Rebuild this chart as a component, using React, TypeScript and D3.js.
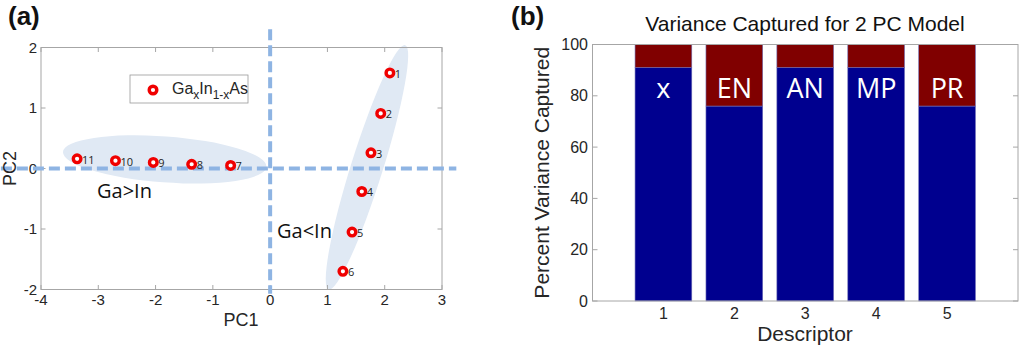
import React from 'react';
import * as d3 from 'd3';

// panel (a): PCA scores of GaxIn1-xAs
const pointIds = [1, 2, 3, 4, 5, 6, 7, 8, 9, 10, 11];
const pc1Scores = [2.09, 1.93, 1.76, 1.6, 1.43, 1.27, -0.69, -1.37, -2.04, -2.7, -3.37];
const pc2Scores = [1.58, 0.91, 0.26, -0.38, -1.05, -1.7, 0.05, 0.07, 0.1, 0.13, 0.16];
const pcXTicks = [-4, -3, -2, -1, 0, 1, 2, 3];
const pcYTicks = [-2, -1, 0, 1, 2];

// panel (b): variance captured per descriptor
const descriptors = [1, 2, 3, 4, 5];
const descriptorNames = ['x', 'EN', 'AN', 'MP', 'PR'];
const pcOneVariance = [91, 76, 91, 91, 76];
const pcTwoVariance = [9, 24, 9, 9, 24];
const varianceTicks = [0, 20, 40, 60, 80, 100];

const ARIAL = '"Liberation Sans", Arial, sans-serif';
const CALIBRI = '"Open Sans", sans-serif';
const AXIS = '#a6a6a6';
const TXT = '#262626';

function App() {
  // ---- panel a scales
  const xA = d3.scaleLinear().domain([-4, 3]).range([41, 442]);
  const yA = d3.scaleLinear().domain([-2, 2]).range([289.5, 47.5]);
  const pts = pointIds.map((id, i) => ({ id, x: pc1Scores[i], y: pc2Scores[i] }));

  // ---- panel b scales
  const xB = d3.scaleLinear().domain([0, 6]).range([592.5, 1018]);
  const yB = d3.scaleLinear().domain([0, 100]).range([301, 44.5]);
  const barW = xB(0.8) - xB(0);
  const stackData = descriptors.map((d, i) => ({ d, pc1: pcOneVariance[i], pc2: pcTwoVariance[i] }));
  const series = d3.stack<any>().keys(['pc1', 'pc2'])(stackData);
  const barColors = ['#00008f', '#800000'];

  const dash = { stroke: '#8eb4e3', strokeWidth: 4, strokeDasharray: '11 5', fill: 'none' };

  return (
    <svg width={1024} height={350} style={{ position: 'absolute', left: 0, top: 0, background: '#fff' }}>
      {/* ===================== (a) ===================== */}
      <text x={8} y={24.5} fontFamily={ARIAL} fontWeight="bold" fontSize={26} fill="#111">(a)</text>

      {/* group ellipses */}
      <ellipse cx={xA(-1.84)} cy={yA(0.15)} rx={102} ry={23}
        transform={`rotate(4.2 ${xA(-1.84)} ${yA(0.15)})`} fill="#e0e9f4" />
      <ellipse cx={xA(1.69)} cy={yA(0.02)} rx={128} ry={16}
        transform={`rotate(-72.6 ${xA(1.69)} ${yA(0.02)})`} fill="#e0e9f4" />

      {/* axes box */}
      <rect x={41} y={47.5} width={401} height={242} fill="none" stroke={AXIS} strokeWidth={1} />
      {pcXTicks.map(t => (
        <g key={'xa' + t}>
          <line x1={xA(t)} x2={xA(t)} y1={289.5} y2={285} stroke={AXIS} />
          <line x1={xA(t)} x2={xA(t)} y1={47.5} y2={52} stroke={AXIS} />
          <text x={xA(t)} y={305} textAnchor="middle" fontFamily={ARIAL} fontSize={15} fill={TXT}>{t}</text>
        </g>
      ))}
      {pcYTicks.map(t => (
        <g key={'ya' + t}>
          <line x1={41} x2={45.5} y1={yA(t)} y2={yA(t)} stroke={AXIS} />
          <line x1={442} x2={437.5} y1={yA(t)} y2={yA(t)} stroke={AXIS} />
          <text x={37} y={yA(t) + 5} textAnchor="end" fontFamily={ARIAL} fontSize={15} fill={TXT}>{t}</text>
        </g>
      ))}

      {/* dashed zero lines */}
      <line x1={xA(-4.7)} x2={xA(3.25)} y1={yA(0)} y2={yA(0)} style={dash} />
      <line x1={xA(0)} x2={xA(0)} y1={yA(2.3)} y2={yA(-2.07)} style={dash} />

      {/* points */}
      {pts.map(p => (
        <g key={'p' + p.id}>
          <circle cx={xA(p.x)} cy={yA(p.y)} r={3.8} fill="#fff" stroke="#f00000" strokeWidth={3.4} />
          <text x={xA(p.x) + 5} y={yA(p.y) + 5} fontFamily={CALIBRI} fontSize={11} fill={TXT}>{p.id}</text>
        </g>
      ))}

      <text x={97} y={198} fontFamily={CALIBRI} fontSize={20} fill="#111">Ga&gt;In</text>
      <text x={277} y={238} fontFamily={CALIBRI} fontSize={20} fill="#111">Ga&lt;In</text>

      {/* legend */}
      <rect x={130} y={75} width={118} height={28} fill="#fff" stroke="#999" strokeWidth={0.8} />
      <circle cx={153} cy={90} r={3.8} fill="#fff" stroke="#f00000" strokeWidth={3.4} />
      <text x={172} y={94} fontFamily={ARIAL} fontSize={16} fill={TXT}>
        Ga<tspan fontSize={12} dy={5}>x</tspan><tspan dy={-5}>In</tspan>
        <tspan fontSize={12} dy={5}>1-x</tspan><tspan dy={-5}>As</tspan>
      </text>

      <text x={241} y={326} textAnchor="middle" fontFamily={ARIAL} fontSize={18} fill={TXT}>PC1</text>
      <text transform={`translate(16,${yA(0)}) rotate(-90)`} textAnchor="middle" fontFamily={ARIAL} fontSize={18} fill={TXT}>PC2</text>

      {/* ===================== (b) ===================== */}
      <text x={511} y={24.5} fontFamily={ARIAL} fontWeight="bold" fontSize={26} fill="#111">(b)</text>
      <text x={805} y={30.5} textAnchor="middle" fontFamily={ARIAL} fontSize={21} fill="#111">
        Variance Captured for 2 PC Model
      </text>

      {series.map((s, si) => (
        <g key={'s' + si}>
          {s.map((seg, i) => (
            <rect key={i}
              x={xB(descriptors[i]) - barW / 2}
              y={yB(seg[1])}
              width={barW}
              height={yB(seg[0]) - yB(seg[1])}
              fill={barColors[si]}
              stroke="#7070b8"
              strokeWidth={0.6} />
          ))}
        </g>
      ))}
      {descriptorNames.map((name, i) => (
        <text key={name} x={xB(descriptors[i])} y={98} textAnchor="middle" fontFamily={CALIBRI} fontSize={27} fill="#fff">{name}</text>
      ))}

      <rect x={592.5} y={44.5} width={425.5} height={256.5} fill="none" stroke={AXIS} strokeWidth={1} />
      {varianceTicks.map(t => (
        <g key={'yb' + t}>
          <line x1={592.5} x2={597.5} y1={yB(t)} y2={yB(t)} stroke={AXIS} />
          <line x1={1018} x2={1013} y1={yB(t)} y2={yB(t)} stroke={AXIS} />
          <text x={588} y={yB(t) + 5.5} textAnchor="end" fontFamily={ARIAL} fontSize={16} fill={TXT}>{t}</text>
        </g>
      ))}
      {descriptors.map(d => (
        <g key={'xb' + d}>
          <text x={xB(d)} y={319} textAnchor="middle" fontFamily={ARIAL} fontSize={16} fill={TXT}>{d}</text>
        </g>
      ))}
      <text x={805} y={341} textAnchor="middle" fontFamily={ARIAL} fontSize={21} fill={TXT}>Descriptor</text>
      <text transform={`translate(549,${(yB(0) + yB(100)) / 2}) rotate(-90)`} textAnchor="middle"
        fontFamily={ARIAL} fontSize={21} fill={TXT}>Percent Variance Captured</text>
    </svg>
  );
}

export default App;
